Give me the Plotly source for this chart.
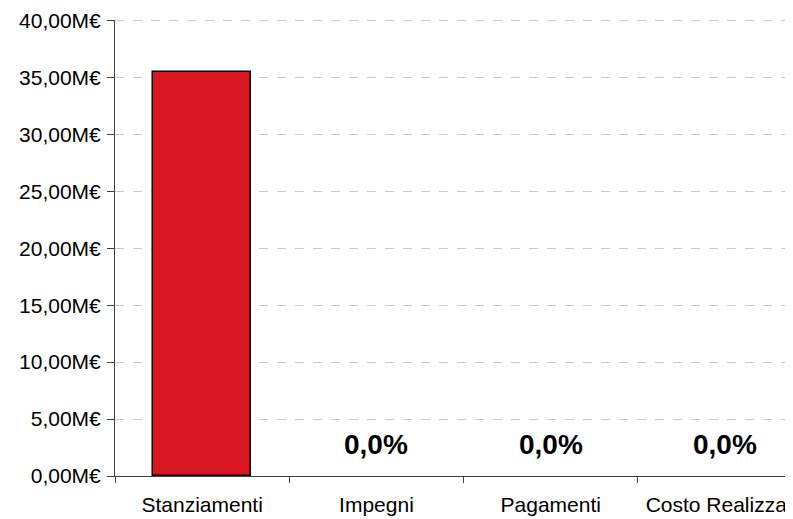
import plotly.graph_objects as go

# categories and values (milioni di euro)
categorie = ["Stanziamenti", "Impegni", "Pagamenti", "Costo Realizzato"]
valori = [35.45, 0, 0, 0]
percentuali = ["", "0,0%", "0,0%", "0,0%"]

tick_vals = [0, 5, 10, 15, 20, 25, 30, 35, 40]
tick_text = ["0,00M€", "5,00M€", "10,00M€", "15,00M€", "20,00M€",
             "25,00M€", "30,00M€", "35,00M€", "40,00M€"]

fig = go.Figure()
fig.add_trace(go.Bar(
    x=categorie, y=valori, width=0.56,
    marker=dict(color="#d7161f",
                line=dict(color="black", width=[1.5 if v > 0 else 0 for v in valori])),
    hoverinfo="skip",
))

for cat, p in zip(categorie, percentuali):
    if p:
        fig.add_annotation(x=cat, y=0, text="<b>" + p + "</b>", showarrow=False,
                           yanchor="middle", yshift=32,
                           font=dict(size=28, color="black"))

# top grid line (plotly drops the one on the plot edge)
fig.add_hline(y=tick_vals[-1], line=dict(color="#c8c8c8", width=1, dash="dash"))

# page body has an 8px margin, so the figure is a little smaller than the window
fig.update_layout(
    width=785, height=511,
    margin=dict(l=107, r=0, t=12, b=43),
    plot_bgcolor="white", paper_bgcolor="white",
    font=dict(family="Liberation Sans, Arial, sans-serif", size=21, color="black"),
    showlegend=False,
    bargap=0,
)
fig.update_xaxes(
    type="category", range=[-0.5, 3.39], automargin=False,
    tickson="boundaries", ticks="outside", ticklen=6, tickcolor="#404040",
    ticklabelstandoff=10,
    showline=True, linecolor="#404040", linewidth=1,
    showgrid=False, zeroline=False,
)
fig.update_yaxes(
    range=[0, 40.05], tickvals=tick_vals, ticktext=tick_text, automargin=False,
    ticks="outside", ticklen=7, tickcolor="#404040",
    ticklabelstandoff=2,
    showline=True, linecolor="#404040", linewidth=1,
    showgrid=True, gridcolor="#c8c8c8", griddash="dash", gridwidth=1,
    zeroline=False,
)

fig.write_html("out.html")
